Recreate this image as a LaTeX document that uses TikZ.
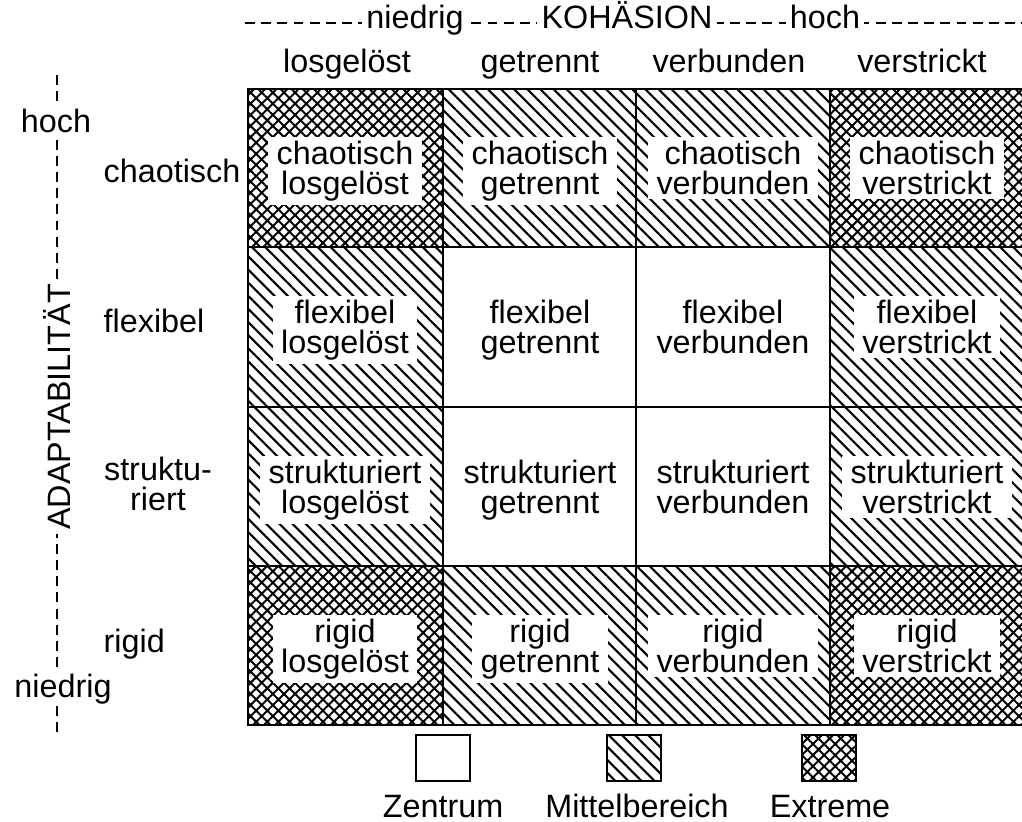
\documentclass[tikz,border=0pt]{standalone}
\usepackage{fontspec}
\setmainfont{Liberation Sans}
\usetikzlibrary{patterns.meta, positioning}

\tikzset{
  lbl/.style={font=\fontsize{23}{21}\selectfont, inner sep=1pt},
  celltext/.style={lbl, align=center, fill=white, inner xsep=6pt, inner ysep=3pt, anchor=north},
  axisline/.style={line width=1.5pt, dash pattern=on 7pt off 4.5pt},
  mittel/.style={pattern={Lines[angle=-45,distance=6.6pt,line width=1.5pt]}},
  extrem/.style={pattern={Hatch[angle=45,distance=5.6pt,line width=1.4pt]}},
  legbox/.style={draw, line width=1.4pt, minimum width=1.33cm, minimum height=1.17cm, inner sep=0pt}
}

\begin{document}
\lineskiplimit=-100pt
\begin{tikzpicture}[x=0.025cm, y=-0.025cm]
  \useasboundingbox (0,0) rectangle (1022,822);

  % Felder
  \fill[extrem] (248,89) rectangle (443,247);
  \fill[extrem] (830,89) rectangle (1030,247);
  \fill[extrem] (248,566) rectangle (443,725);
  \fill[extrem] (830,566) rectangle (1030,725);
  \fill[mittel] (443,89) rectangle (830,247);
  \fill[mittel] (443,566) rectangle (830,725);
  \fill[mittel] (248,247) rectangle (443,566);
  \fill[mittel] (830,247) rectangle (1030,566);

  \foreach \x in {443,636,830}
    \draw[line width=1.1pt] (\x,89) -- (\x,725);
  \foreach \y in {247,407,566}
    \draw[line width=1.1pt] (248,\y) -- (1030,\y);
  \draw[line width=1.8pt] (1030,89) -- (248,89) -- (248,725) -- (1030,725);

  \foreach \row/\y/\rn in {1/137/chaotisch, 2/296/flexibel, 3/456/strukturiert, 4/615/rigid}
    \foreach \col/\x/\cn in {1/345/losgelöst, 2/540/getrennt, 3/733/verbunden, 4/927/verstrickt}
      \node[celltext] (c\row\col) at (\x,\y) {\rn\\\cn};

  % Kohaesion
  \coordinate (kl) at (245,23);
  \coordinate (kr) at (1030,23);
  \draw[axisline] (kl) -- (kr);
  \node[lbl, fill=white, inner xsep=3pt, anchor=base] (kniedrig) at (415,28) {niedrig};
  \node[lbl, fill=white, inner xsep=3pt, anchor=base] (kname) at (627,28) {KOHÄSION};
  \node[lbl, fill=white, inner xsep=3pt, anchor=base] (khoch) at (825,28) {hoch};

  \node[lbl, anchor=base] (h1) at (347,72) {losgelöst};
  \node[lbl, anchor=base] (h2) at (540,72) {getrennt};
  \node[lbl, anchor=base] (h3) at (729,72) {verbunden};
  \node[lbl, anchor=base] (h4) at (922,72) {verstrickt};

  % Adaptabilitaet
  \coordinate (at) at (57,75);
  \coordinate (ab) at (57,735);
  \draw[axisline] (at) -- (ab);
  \node[lbl, fill=white, anchor=base] (ahoch) at (56,132) {hoch};
  \node[lbl, fill=white, inner xsep=3pt, rotate=90] (aname) at (57,407) {ADAPTABILITÄT};
  \node[lbl, fill=white, anchor=base] (aniedrig) at (63,697) {niedrig};

  \node[lbl, anchor=base west] (r1) at (102,182) {chaotisch};
  \node[lbl, anchor=base west] (r2) at (102,332) {flexibel};
  \node[lbl, align=center] (r3) at (158,484) {struktu-\\riert};
  \node[lbl, anchor=base west] (r4) at (102,652) {rigid};

  % Legende
  \node[legbox] (lz) at (443,758) {};
  \node[legbox, mittel] (lm) at (634,758) {};
  \node[legbox, extrem] (le) at (829,758) {};
  \node[lbl, anchor=base] (tz) at (443,817) {Zentrum};
  \node[lbl, anchor=base] (tm) at (637,817) {Mittelbereich};
  \node[lbl, anchor=base] (te) at (830,817) {Extreme};
\end{tikzpicture}
\end{document}
